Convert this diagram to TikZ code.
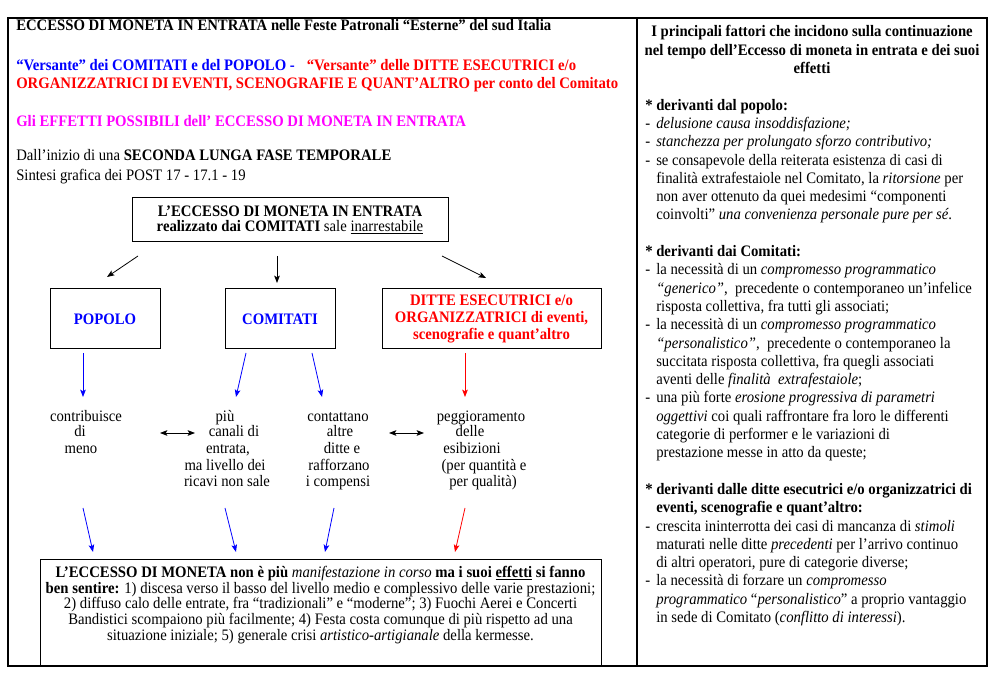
\documentclass[tikz,border=0pt]{standalone}
\usepackage{fontspec}
\setmainfont{Liberation Serif}[FakeStretch=0.92]
\usetikzlibrary{arrows.meta}
\newlength\px \setlength\px{0.75pt}
\definecolor{vblue}{RGB}{0,0,255}
\definecolor{vred}{RGB}{255,0,0}
\definecolor{vmag}{RGB}{255,0,255}
\newcommand\dl{\makebox[11\px][l]{-}}
\newcommand\il{\hspace*{11\px}}
\newcommand\stl{\makebox[11\px][l]{\textbf{*}}}
\newcommand\rl[2]{\node[hl] (r#1) at (645,{37+#1*18.3}) {#2};}
\newcommand\cln[4]{\node[cl] (#1) at (#2,#3) {#4};}
\begin{document}
\begin{tikzpicture}[x=0.75pt,y=-0.75pt,
  txt/.style={inner sep=0pt, font=\fontsize{12pt}{13.7pt}\selectfont},
  hl/.style={txt, anchor=base west},
  cl/.style={txt, anchor=base},
  frame/.style={draw, line width=0.9pt},
  bx/.style={draw, line width=0.75pt, inner sep=0pt, align=center, font=\fontsize{12pt}{13.7pt}\selectfont},
  ah/.tip={Stealth[length=5.5pt,width=4.2pt,inset=1.2pt]},
  arr/.style={-ah, line width=0.6pt},
  darr/.style={ah-ah, line width=0.6pt}]
\useasboundingbox (0,0) rectangle (997,680);
\fill[white] (0,0) rectangle (997,680);
\draw[frame] (8,18) rectangle (987,666);
\draw[frame] (637,18) -- (637,666);

% ---------- left header ----------
\node[hl] (h1) at (16,31) {\textbf{ECCESSO DI MONETA IN ENTRATA nelle Feste Patronali “Esterne” del sud Italia}};
\node[hl] (h2) at (16,71) {\textbf{\textcolor{vblue}{“Versante” dei COMITATI e del POPOLO -}\hspace{12\px}\textcolor{vred}{“Versante” delle DITTE ESECUTRICI e/o}}};
\node[hl, text=vred] (h3) at (16,89) {\textbf{ORGANIZZATRICI DI EVENTI, SCENOGRAFIE E QUANT’ALTRO per conto del Comitato}};
\node[hl, text=vmag] (h4) at (16,127) {\textbf{Gli EFFETTI POSSIBILI dell’ ECCESSO DI MONETA IN ENTRATA}};
\node[hl] (h5) at (16,161) {Dall’inizio di una \textbf{SECONDA LUNGA FASE TEMPORALE}};
\node[hl] (h6) at (16,181) {Sintesi grafica dei POST 17 - 17.1 - 19};

% ---------- boxes ----------
\node[bx, minimum width=316\px, minimum height=44\px, font=\fontsize{12pt}{10.7pt}\selectfont] (top) at (290,220)
  {\textbf{L’ECCESSO DI MONETA IN ENTRATA}\\\textbf{realizzato dai COMITATI} sale \underline{inarrestabile}};
\node[bx, minimum width=110\px, minimum height=60\px, text=vblue] (popolo) at (105,319) {\textbf{POPOLO}};
\node[bx, minimum width=110\px, minimum height=60\px, text=vblue] (comitati) at (280,319) {\textbf{COMITATI}};
\node[bx, minimum width=219\px, minimum height=60\px, text=vred, font=\fontsize{12pt}{12.75pt}\selectfont] (ditte) at (491.5,319)
  {\textbf{DITTE ESECUTRICI e/o}\\\textbf{ORGANIZZATRICI di eventi,}\\\textbf{scenografie e quant’altro}};

% ---------- arrows from top box ----------
\coordinate (a1s) at (138,256); \coordinate (a1e) at (107,277);
\coordinate (a2s) at (277,256); \coordinate (a2e) at (277,283);
\coordinate (a3s) at (442,256); \coordinate (a3e) at (486,278);
\draw[arr] (a1s) -- (a1e);
\draw[arr] (a2s) -- (a2e);
\draw[arr] (a3s) -- (a3e);

% ---------- arrows under boxes ----------
\coordinate (b1s) at (83,353);  \coordinate (b1e) at (83,397);
\coordinate (b2s) at (246,353); \coordinate (b2e) at (236,397);
\coordinate (b3s) at (312,353); \coordinate (b3e) at (322,397);
\coordinate (b4s) at (465,353); \coordinate (b4e) at (465,397);
\draw[arr, vblue] (b1s) -- (b1e);
\draw[arr, vblue] (b2s) -- (b2e);
\draw[arr, vblue] (b3s) -- (b3e);
\draw[arr, vred] (b4s) -- (b4e);

% ---------- column texts ----------
\cln{c1a}{86}{422}{contribuisce}
\cln{c1b}{80}{437}{di}
\cln{c1c}{81}{454}{meno}
\cln{c2a}{225}{422}{più}
\cln{c2b}{234}{437}{canali di}
\cln{c2c}{228}{454}{entrata,}
\cln{c2d}{225}{471}{ma livello dei}
\cln{c2e}{227}{487}{ricavi non sale}
\cln{c3a}{338}{422}{contattano}
\cln{c3b}{340}{437}{altre}
\cln{c3c}{342}{454}{ditte e}
\cln{c3d}{339}{471}{rafforzano}
\cln{c3e}{338}{487}{i compensi}
\cln{c4a}{481}{422}{peggioramento}
\cln{c4b}{470}{437}{delle}
\cln{c4c}{472}{454}{esibizioni}
\cln{c4d}{484}{471}{(per quantità e}
\cln{c4e}{483}{487}{per qualità)}

\coordinate (d1s) at (160,433); \coordinate (d1e) at (195,433);
\coordinate (d2s) at (389,433); \coordinate (d2e) at (424,433);
\draw[darr] (d1s) -- (d1e);
\draw[darr] (d2s) -- (d2e);

% ---------- lower arrows ----------
\coordinate (e1s) at (83,508);  \coordinate (e1e) at (93,552);
\coordinate (e2s) at (225,508); \coordinate (e2e) at (236,552);
\coordinate (e3s) at (334,508); \coordinate (e3e) at (325,552);
\coordinate (e4s) at (465,508); \coordinate (e4e) at (455,552);
\draw[arr, vblue] (e1s) -- (e1e);
\draw[arr, vblue] (e2s) -- (e2e);
\draw[arr, vblue] (e3s) -- (e3e);
\draw[arr, vred] (e4s) -- (e4e);

% ---------- bottom box ----------
\node[draw, line width=0.75pt, inner sep=0pt, minimum width=561\px, minimum height=107\px, anchor=north west] (effbox) at (40,559) {};
\node[txt, align=center, font=\fontsize{12pt}{11.8pt}\selectfont] (efftext) at (320.5,605)
  {\textbf{L’ECCESSO DI MONETA non è più} \textit{manifestazione in corso} \textbf{ma i suoi \underline{effetti} si fanno}\\
   \textbf{ben sentire:} 1) discesa verso il basso del livello medio e complessivo delle varie prestazioni;\\
   2) diffuso calo delle entrate, fra “tradizionali” e “moderne”; 3) Fuochi Aerei e Concerti\\
   Bandistici scompaiono più facilmente; 4) Festa costa comunque di più rispetto ad una\\
   situazione iniziale; 5) generale crisi \textit{artistico-artigianale} della kermesse.};

% ---------- right column ----------
\node[cl] (t0) at (812,37) {\textbf{I principali fattori che incidono sulla continuazione}};
\node[cl] (t1) at (812,55.3) {\textbf{nel tempo dell’Eccesso di moneta in entrata e dei suoi}};
\node[cl] (t2) at (812,73.6) {\textbf{effetti}};

\rl{4}{\stl\textbf{derivanti dal popolo:}}
\rl{5}{\dl\textit{delusione causa insoddisfazione;}}
\rl{6}{\dl\textit{stanchezza per prolungato sforzo contributivo;}}
\rl{7}{\dl se consapevole della reiterata esistenza di casi di}
\rl{8}{\il finalità extrafestaiole nel Comitato, la \textit{ritorsione} per}
\rl{9}{\il non aver ottenuto da quei medesimi “componenti}
\rl{10}{\il coinvolti” \textit{una convenienza personale pure per sé}.}

\rl{12}{\stl\textbf{derivanti dai Comitati:}}
\rl{13}{\dl la necessità di un \textit{compromesso programmatico}}
\rl{14}{\il\textit{“generico”},\ \ precedente o contemporaneo un’infelice}
\rl{15}{\il risposta collettiva, fra tutti gli associati;}
\rl{16}{\dl la necessità di un \textit{compromesso programmatico}}
\rl{17}{\il\textit{“personalistico”},\ \ precedente o contemporaneo la}
\rl{18}{\il succitata risposta collettiva, fra quegli associati}
\rl{19}{\il aventi delle \textit{finalità\ \ extrafestaiole};}
\rl{20}{\dl una più forte \textit{erosione progressiva di parametri}}
\rl{21}{\il\textit{oggettivi} coi quali raffrontare fra loro le differenti}
\rl{22}{\il categorie di performer e le variazioni di}
\rl{23}{\il prestazione messe in atto da queste;}

\rl{25}{\stl\textbf{derivanti dalle ditte esecutrici e/o organizzatrici di}}
\rl{26}{\il\textbf{eventi, scenografie e quant’altro:}}
\rl{27}{\dl crescita ininterrotta dei casi di mancanza di \textit{stimoli}}
\rl{28}{\il maturati nelle ditte \textit{precedenti} per l’arrivo continuo}
\rl{29}{\il di altri operatori, pure di categorie diverse;}
\rl{30}{\dl la necessità di forzare un \textit{compromesso}}
\rl{31}{\il\textit{programmatico} “\textit{personalistico}” a proprio vantaggio}
\rl{32}{\il in sede di Comitato (\textit{conflitto di interessi}).}
\end{tikzpicture}
\end{document}
